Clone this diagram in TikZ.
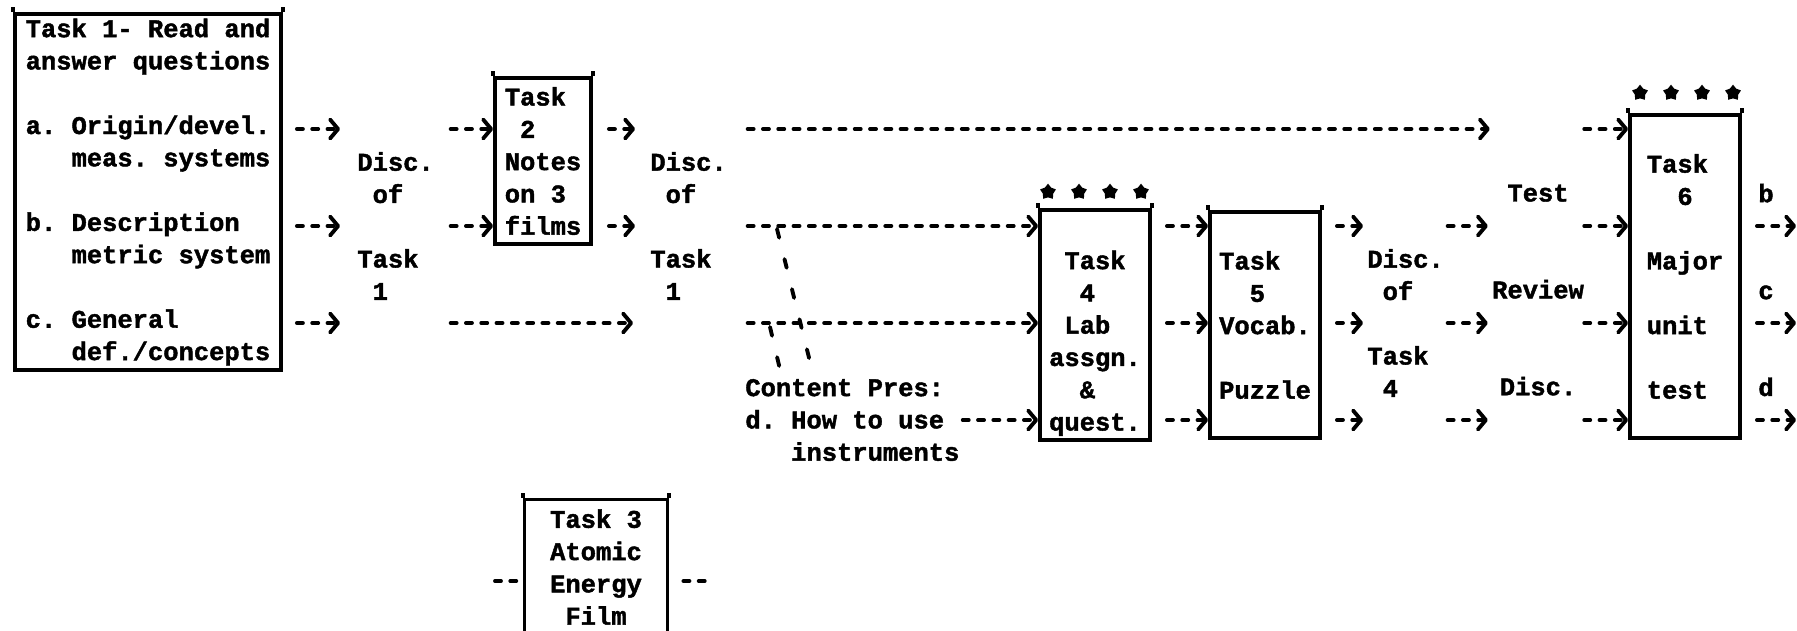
\documentclass[tikz,border=0pt]{standalone}
\usepackage{fontspec}
\setmonofont{Liberation Mono}[BoldFeatures={FakeBold=1.6}]
\usetikzlibrary{arrows.meta, shapes.geometric}

\begin{document}
\begin{tikzpicture}[
x=0.02cm, y=-0.02cm,
font=\ttfamily\bfseries\fontsize{14.5}{18.38}\selectfont,
taskbox/.style={
draw,
line width=2.2pt,
inner sep=0pt,
align=left
},
lbl/.style={
inner sep=0pt,
align=left,
anchor=west
},
dasharrow/.style={
line width=2.2pt,
line cap=round,
dash pattern=on 0.12cm off 0.186cm,
-{Straight Barb[length=0.16cm, width=0.38cm, round]}
},
dashstub/.style={line width=2.2pt, line cap=round, dash pattern=on 0.12cm off 0.186cm},
pointer/.style={line width=2.2pt, line cap=round, dash pattern=on 0.18cm off 0.44cm},
starmark/.style={star, star points=5, star point ratio=1.55, fill, draw, line width=0.6pt, inner sep=0pt, minimum size=0.3cm}
]
\useasboundingbox (0,0) rectangle (1797,630);
\clip (0,0) rectangle (1797,630);

% rows of the typed grid
\coordinate (r3) at (0,129);
\coordinate (r6) at (0,226);
\coordinate (r9) at (0,323);
\coordinate (r12) at (0,420);
\coordinate (r17) at (0,581);

% Task boxes
\node[taskbox, minimum width=5.32cm, minimum height=7.12cm] (t1) at (148,192) {%
Task 1- Read and\\answer questions\\\strut\\a. Origin/devel.\\~~~meas. systems\\\strut\\%
b. Description\\~~~metric system\\\strut\\c. General\\~~~def./concepts};
\node[taskbox, minimum width=1.92cm, minimum height=3.32cm] (t2) at (543,161) {Task\\~2\\Notes\\on 3\\films};
\node[taskbox, align=center, minimum width=2.86cm, minimum height=2.7cm] (t3) at (596,567) {Task 3\\Atomic\\Energy\\Film};
\node[taskbox, minimum width=2.2cm, minimum height=4.6cm] (t4) at (1095,325) {\strut\\~Task\\~~4\\~Lab\\assgn.\\~~\&\\quest.};
\node[taskbox, minimum width=2.2cm, minimum height=4.52cm] (t5) at (1265,325) {Task\\~~5\\Vocab.\\\strut\\Puzzle};
\node[taskbox, minimum width=2.2cm, minimum height=6.46cm] (t6) at (1685,276.5) {Task\\~~6\\\strut\\Major\\\strut\\unit\\\strut\\test};

% typed corners stick out over the top rule
\foreach \t in {t1,t2,t3,t4,t5,t6} {
  \draw[line width=2.2pt] (\t.north west) -- ++(0,-5);
  \draw[line width=2.2pt] (\t.north east) -- ++(0,-5);
}

% stars over Task 4 and Task 6
\foreach \sx [count=\i] in {1048,1079,1110,1141}
  \node[starmark] (sa\i) at (\sx,192) {};
\foreach \sx [count=\i] in {1640,1671,1702,1733}
  \node[starmark] (sb\i) at (\sx,93) {};

% Labels between the boxes
\node[lbl] (dt1) at (357,226) {Disc.\\~of\\\strut\\Task\\~1};
\node[lbl] (dt2) at (650,226) {Disc.\\~of\\\strut\\Task\\~1};
\node[lbl] (cp) at (745,420) {Content Pres:\\d. How to use\\~~~instruments};
\node[lbl] (dt4) at (1367,323) {Disc.\\~of\\\strut\\Task\\~4};
\node[inner sep=0pt, align=center] (tr) at (1538,290) {Test\\\strut\\\strut\\Review\\\strut\\\strut\\Disc.};
\node[lbl] (bcd) at (1758,290) {b\\\strut\\\strut\\c\\\strut\\\strut\\d};

% free ends
\coordinate (out) at (1796,0);
\coordinate (stubl) at (495,0);
\coordinate (stubr) at (712,0);
\coordinate (pa) at (777,229);
\coordinate (pb) at (770,327);

% Arrows
\foreach \r in {r3,r6,r9}
  \draw[dasharrow, shorten <=0.28cm, shorten >=0.34cm] (t1.east |- \r) -- (dt1.west |- \r);
\foreach \r in {r3,r6}
  \draw[dasharrow, shorten <=0.33cm] (dt1.east |- \r) -- (t2.west |- \r);
\draw[dasharrow, shorten <=0.33cm, shorten >=0.34cm] (dt1.east |- r9) -- (dt2.west |- r9);
\foreach \r in {r3,r6}
  \draw[dasharrow, shorten <=0.32cm, shorten >=0.3cm] (t2.east |- \r) -- (dt2.west |- \r);
\draw[dasharrow, shorten <=0.41cm, shorten >=0.04cm] (dt2.east |- r3) -- (tr.west |- r3);
\foreach \r in {r6,r9}
  \draw[dasharrow, shorten <=0.41cm] (dt2.east |- \r) -- (t4.west |- \r);
\draw[dasharrow, shorten <=0.06cm] (cp.east |- r12) -- (t4.west |- r12);
\foreach \r in {r6,r9,r12}
  \draw[dasharrow, shorten <=0.3cm] (t4.east |- \r) -- (t5.west |- \r);
\foreach \r in {r6,r9,r12}
  \draw[dasharrow, shorten <=0.3cm, shorten >=0.08cm] (t5.east |- \r) -- (dt4.west |- \r);
\foreach \r in {r6,r9,r12}
  \draw[dasharrow, shorten <=0.07cm, shorten >=0.08cm] (dt4.east |- \r) -- (tr.west |- \r);
\foreach \r in {r3,r6,r9,r12}
  \draw[dasharrow] (tr.east |- \r) -- (t6.west |- \r);
\foreach \r in {r6,r9,r12}
  \draw[dasharrow, shorten <=0.3cm] (t6.east |- \r) -- (out |- \r);

% stubs beside Task 3
\draw[dashstub, shorten >=0.06cm] (stubl |- r17) -- (t3.west |- r17);
\draw[dashstub, shorten <=0.28cm] (t3.east |- r17) -- (stubr |- r17);

% content presentation pointers
\draw[pointer] (pa) -- ([xshift=1.36cm, yshift=0.1cm]cp.north west);
\draw[pointer] (pb) -- ([xshift=0.72cm, yshift=0.1cm]cp.north west);

\end{tikzpicture}
\end{document}
